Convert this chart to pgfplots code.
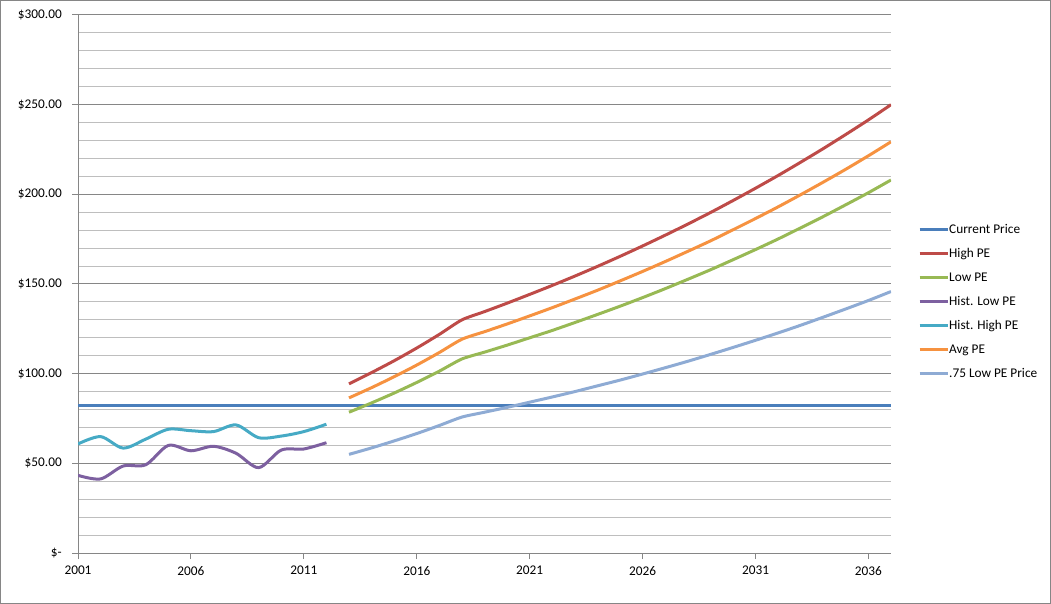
\documentclass[border=0pt]{standalone}
\usepackage{pgfplots}
\pgfplotsset{compat=1.18}
\usepackage{fontspec}
\setmainfont{Carlito}
\definecolor{cur}{HTML}{4A7EBB}
\definecolor{hipe}{HTML}{BE4B48}
\definecolor{lope}{HTML}{98B954}
\definecolor{hlow}{HTML}{7D60A0}
\definecolor{hhigh}{HTML}{46AAC5}
\definecolor{avgpe}{HTML}{F69240}
\definecolor{qlow}{HTML}{8EABD4}
\definecolor{axisgray}{HTML}{868686}
\definecolor{gridmajor}{HTML}{868686}
\definecolor{gridminor}{HTML}{BEBEBE}
\begin{document}
\fontsize{13.3bp}{16bp}\selectfont
\begin{tikzpicture}
\useasboundingbox (0,0) rectangle (1051bp,604bp);
\draw[color=axisgray, line width=1bp] (0.5bp,0.5bp) rectangle (1050.5bp,603.5bp);
\begin{axis}[
  at={(78bp,51bp)}, anchor=south west,
  scale only axis, width=813bp, height=538bp,
  xmin=2001, xmax=2037, ymin=0, ymax=300,
  axis x line*=bottom, axis y line*=left,
  axis line style={draw=axisgray, line width=1bp},
  ytick={0,50,100,150,200,250,300},
  yticklabels={\$-\hspace{5bp}, \$50.00, \$100.00, \$150.00, \$200.00, \$250.00, \$300.00},
  minor ytick={10,20,...,290},
  ymajorgrids, yminorgrids,
  major grid style={draw=gridmajor, line width=1bp},
  minor grid style={draw=gridminor, line width=1bp},
  xtick={2001,2006,2011,2016,2021,2026,2031,2036},
  xticklabels={2001,2006,2011,2016,2021,2026,2031,2036},
  tick align=outside, major tick length=6bp, minor tick length=0pt,
  tick style={draw=axisgray, line width=1bp},
  yticklabel style={inner sep=0pt, xshift=-10bp},
  xticklabel style={inner sep=0pt, yshift=-7bp},
  legend style={at={(1.0332,0.6128)}, anchor=north west, draw=none, fill=none,
    inner sep=0pt, row sep=12bp,
    nodes={inner sep=0pt, text height=9.5bp, text depth=2.5bp, anchor=west}},
  legend cell align=left,
  legend image code/.code={\draw[#1] (0bp,0bp) -- (28bp,0bp);},
  every axis plot/.append style={line width=3bp, no markers},
]
\addplot[cur] coordinates {(2001,82)(2037,82)};
\addlegendentry{Current Price}
\addplot[hipe, smooth, tension=0.4] coordinates {
(2013,94.3)(2014,100.6)(2015,107.2)(2016,114.3)(2017,121.9)(2018,130.0)(2019,134.6)(2020,139.3)
(2021,144.2)(2022,149.2)(2023,154.4)(2024,159.8)(2025,165.4)(2026,171.2)(2027,177.2)(2028,183.4)
(2029,189.8)(2030,196.5)(2031,203.4)(2032,210.5)(2033,217.9)(2034,225.5)(2035,233.4)(2036,241.5)(2037,250.0)};
\addlegendentry{High PE}
\addplot[lope, smooth, tension=0.4] coordinates {
(2013,78.5)(2014,83.7)(2015,89.2)(2016,95.1)(2017,101.4)(2018,108.2)(2019,112.0)(2020,115.9)
(2021,120.0)(2022,124.1)(2023,128.5)(2024,133.0)(2025,137.6)(2026,142.4)(2027,147.4)(2028,152.6)
(2029,157.9)(2030,163.5)(2031,169.2)(2032,175.1)(2033,181.3)(2034,187.6)(2035,194.2)(2036,200.9)(2037,208.0)};
\addlegendentry{Low PE}
\addplot[hlow, smooth, tension=0.5] coordinates {
(2001,43.3)(2002,41.3)(2003,48.5)(2004,49.2)(2005,60.0)(2006,57.0)(2007,59.5)(2008,55.6)
(2009,47.6)(2010,57.4)(2011,58.0)(2012,61.5)};
\addlegendentry{Hist. Low PE}
\addplot[hhigh, smooth, tension=0.5] coordinates {
(2001,60.8)(2002,64.9)(2003,58.5)(2004,63.5)(2005,69.0)(2006,68.2)(2007,67.7)(2008,71.4)
(2009,64.3)(2010,65.2)(2011,67.7)(2012,71.8)};
\addlegendentry{Hist. High PE}
\addplot[avgpe, smooth, tension=0.4] coordinates {
(2013,86.5)(2014,92.2)(2015,98.3)(2016,104.8)(2017,111.8)(2018,119.2)(2019,123.4)(2020,127.7)
(2021,132.2)(2022,136.8)(2023,141.6)(2024,146.5)(2025,151.7)(2026,157.0)(2027,162.5)(2028,168.2)
(2029,174.0)(2030,180.2)(2031,186.5)(2032,193.0)(2033,199.8)(2034,206.8)(2035,214.0)(2036,221.5)(2037,229.3)};
\addlegendentry{Avg PE}
\addplot[qlow, smooth, tension=0.4] coordinates {
(2013,55.0)(2014,58.6)(2015,62.5)(2016,66.6)(2017,71.1)(2018,75.8)(2019,78.5)(2020,81.2)
(2021,84.1)(2022,87.0)(2023,90.0)(2024,93.2)(2025,96.4)(2026,99.8)(2027,103.3)(2028,106.9)
(2029,110.7)(2030,114.6)(2031,118.6)(2032,122.7)(2033,127.0)(2034,131.5)(2035,136.1)(2036,140.8)(2037,145.8)};
\addlegendentry{.75 Low PE Price}
\end{axis}
\end{tikzpicture}
\end{document}
